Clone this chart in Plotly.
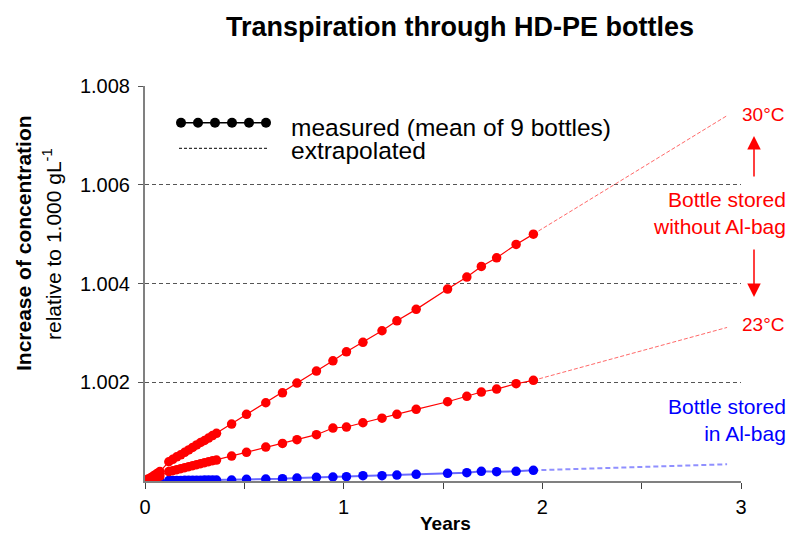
import plotly.graph_objects as go

# ---------------- data (increase of concentration in units of 1e-3 g/L) ----------------
years = [0, 0.015, 0.03, 0.045, 0.06, 0.075,
         0.12, 0.14, 0.16, 0.18, 0.20, 0.22, 0.24, 0.26, 0.28, 0.30, 0.32, 0.34, 0.36,
         0.436, 0.511, 0.608, 0.692, 0.765, 0.863, 0.946, 1.014, 1.097, 1.193,
         1.268, 1.365, 1.523, 1.620, 1.693, 1.770, 1.868, 1.955]

inc_30C = [0, 0.04, 0.07, 0.11, 0.15, 0.19,
           0.39, 0.44, 0.49, 0.53, 0.58, 0.63, 0.68, 0.73, 0.78, 0.82, 0.87, 0.92, 0.965,
           1.154, 1.350, 1.585, 1.787, 1.984, 2.227, 2.435, 2.617, 2.808, 3.043,
           3.245, 3.476, 3.887, 4.130, 4.346, 4.520, 4.792, 5.000]

inc_23C = [0, 0.02, 0.04, 0.06, 0.08, 0.10,
           0.19, 0.21, 0.23, 0.25, 0.27, 0.29, 0.31, 0.33, 0.35, 0.37, 0.39, 0.41, 0.425,
           0.506, 0.580, 0.688, 0.762, 0.837, 0.938, 1.073, 1.093, 1.180, 1.272,
           1.350, 1.451, 1.605, 1.714, 1.802, 1.862, 1.970, 2.038]

inc_albag = [0, 0.0, 0.005, 0.005, 0.01, 0.01,
             0.01, 0.01, 0.012, 0.012, 0.014, 0.014, 0.015, 0.016, 0.017, 0.018, 0.019, 0.02, 0.02,
             0.02, 0.034, 0.04, 0.047, 0.06, 0.074, 0.081, 0.088, 0.108, 0.108,
             0.121, 0.135, 0.155, 0.169, 0.196, 0.189, 0.196, 0.216]

extrap_years = [1.955, 2.93]
extrap_30C = [5.000, 7.40]
extrap_23C = [2.038, 3.11]
extrap_albag = [0.216, 0.338]

y_ticks = [1.002, 1.004, 1.006, 1.008]
x_ticks = [0, 0.5, 1, 1.5, 2, 2.5, 3]
x_ticktext = ["0", "", "1", "", "2", "", "3"]

BASE = 1.000


def conc(vals):
    return [BASE + v / 1000 for v in vals]


FONT = "Liberation Sans, Arial, sans-serif"
RED = "#ff0000"
BLUE = "#0000ff"

fig = go.Figure()

# extrapolated (dashed)
fig.add_trace(go.Scatter(x=extrap_years, y=conc(extrap_albag), mode="lines",
                         line=dict(color="rgba(70,70,255,0.6)", width=2, dash="5px,3px"),
                         showlegend=False, hoverinfo="skip"))
fig.add_trace(go.Scatter(x=extrap_years, y=conc(extrap_23C), mode="lines",
                         line=dict(color="rgba(255,40,40,0.7)", width=1, dash="4px,2px"),
                         showlegend=False, hoverinfo="skip"))
fig.add_trace(go.Scatter(x=extrap_years, y=conc(extrap_30C), mode="lines",
                         line=dict(color="rgba(255,40,40,0.7)", width=1, dash="4px,2px"),
                         showlegend=False, hoverinfo="skip"))

# measured
fig.add_trace(go.Scatter(x=years, y=conc(inc_albag), mode="lines+markers",
                         line=dict(color="rgba(40,40,255,0.7)", width=2),
                         marker=dict(color=BLUE, size=9.5), showlegend=False))
fig.add_trace(go.Scatter(x=years, y=conc(inc_23C), mode="lines+markers",
                         line=dict(color=RED, width=1.2),
                         marker=dict(color=RED, size=9.5), showlegend=False))
fig.add_trace(go.Scatter(x=years, y=conc(inc_30C), mode="lines+markers",
                         line=dict(color=RED, width=1.2),
                         marker=dict(color=RED, size=9.5), showlegend=False))

W, H = 791, 534
PLOT_L, PLOT_R, PLOT_T, PLOT_B = 145, 741, 86, 481
L, T, R, B = PLOT_L, PLOT_T, W - PLOT_R, H - PLOT_B
PW, PH = PLOT_R - PLOT_L, PLOT_B - PLOT_T


def px(x):
    return (x - PLOT_L) / PW


def py(y):
    return (PLOT_B - y) / PH


shapes = []
# legend glyph: measured (dots with line)
shapes.append(dict(type="line", xref="paper", yref="paper",
                   x0=px(181), x1=px(266), y0=py(122.7), y1=py(122.7),
                   line=dict(color="black", width=1.5)))
for cx in [181, 198, 215, 232, 249, 266]:
    shapes.append(dict(type="circle", xref="paper", yref="paper",
                       x0=px(cx - 5), x1=px(cx + 5), y0=py(122.7 + 5), y1=py(122.7 - 5),
                       fillcolor="black", line=dict(color="black", width=0)))
# legend glyph: extrapolated
shapes.append(dict(type="line", xref="paper", yref="paper",
                   x0=px(179), x1=px(268), y0=py(148.3), y1=py(148.3),
                   line=dict(color="black", width=1, dash="3px,2px")))

annotations = [
    dict(text="measured (mean of 9 bottles)", x=px(289), y=py(127), xref="paper", yref="paper",
         xanchor="left", yanchor="middle", showarrow=False, font=dict(size=24.5, color="black", family=FONT)),
    dict(text="extrapolated", x=px(289), y=py(150), xref="paper", yref="paper",
         xanchor="left", yanchor="middle", showarrow=False, font=dict(size=24.5, color="black", family=FONT)),
    dict(text="30°C", x=px(763), y=py(114), xref="paper", yref="paper",
         xanchor="center", yanchor="middle", showarrow=False, font=dict(size=19, color=RED, family=FONT)),
    dict(text="23°C", x=px(763), y=py(324), xref="paper", yref="paper",
         xanchor="center", yanchor="middle", showarrow=False, font=dict(size=19, color=RED, family=FONT)),
    dict(text="Bottle stored<br>without Al-bag", x=px(788), y=py(212.5), xref="paper", yref="paper",
         xanchor="right", yanchor="middle", align="right", showarrow=False,
         font=dict(size=21, color=RED, family=FONT)),
    dict(text="Bottle stored<br>in Al-bag", x=px(788), y=py(419.5), xref="paper", yref="paper",
         xanchor="right", yanchor="middle", align="right", showarrow=False,
         font=dict(size=21, color=BLUE, family=FONT)),
    # arrows
    dict(text="", x=px(754), y=py(136), xref="paper", yref="paper", ax=0, ay=42,
         showarrow=True, arrowhead=2, arrowsize=1.8, arrowwidth=1.5, arrowcolor=RED),
    dict(text="", x=px(754), y=py(297), xref="paper", yref="paper", ax=0, ay=-49,
         showarrow=True, arrowhead=2, arrowsize=1.8, arrowwidth=1.5, arrowcolor=RED),
    # y-axis title
    dict(text="<b>Increase of concentration</b>", x=px(23), y=py(243), xref="paper", yref="paper",
         xanchor="center", yanchor="middle", textangle=-90, showarrow=False,
         font=dict(size=21, color="black", family=FONT)),
    dict(text="relative to 1.000 gL<sup>-1</sup>", x=px(52), y=py(244), xref="paper", yref="paper",
         xanchor="center", yanchor="middle", textangle=-90, showarrow=False,
         font=dict(size=21, color="black", family=FONT)),
    # x-axis title
    dict(text="<b>Years</b>", x=px(445), y=py(523.5), xref="paper", yref="paper",
         xanchor="center", yanchor="middle", showarrow=False,
         font=dict(size=19, color="black", family=FONT)),
    # title
    dict(text="<b>Transpiration through HD-PE bottles</b>", x=px(460), y=py(27), xref="paper", yref="paper",
         xanchor="center", yanchor="middle", showarrow=False,
         font=dict(size=27, color="black", family=FONT)),
]

fig.update_layout(
    width=W, height=H,
    margin=dict(l=L, r=R, t=T, b=B),
    paper_bgcolor="white", plot_bgcolor="white",
    font=dict(family=FONT, color="black"),
    showlegend=False,
    shapes=shapes,
    annotations=annotations,
    xaxis=dict(range=[0, 3], tickvals=x_ticks, ticktext=x_ticktext,
               showgrid=False, zeroline=False,
               showline=True, linecolor="#808080", linewidth=2,
               ticks="outside", ticklen=6, tickcolor="#404040", tickwidth=1,
               tickfont=dict(size=20, family=FONT, color="black"),
               ticklabelstandoff=1),
    yaxis=dict(range=[1.000, 1.008], tickvals=y_ticks, tickformat=".3f",
               showgrid=True, gridcolor="#555555", gridwidth=1, griddash="4px,3px",
               zeroline=False,
               showline=True, linecolor="#808080", linewidth=2,
               ticks="outside", ticklen=5, tickcolor="#555555", tickwidth=1,
               tickfont=dict(size=20, family=FONT, color="black"),
               ticklabelstandoff=4),
)

fig.write_html("out.html",
               config={"displayModeBar": False},
               post_script="document.body.style.margin='0';document.body.style.overflow='hidden';")
